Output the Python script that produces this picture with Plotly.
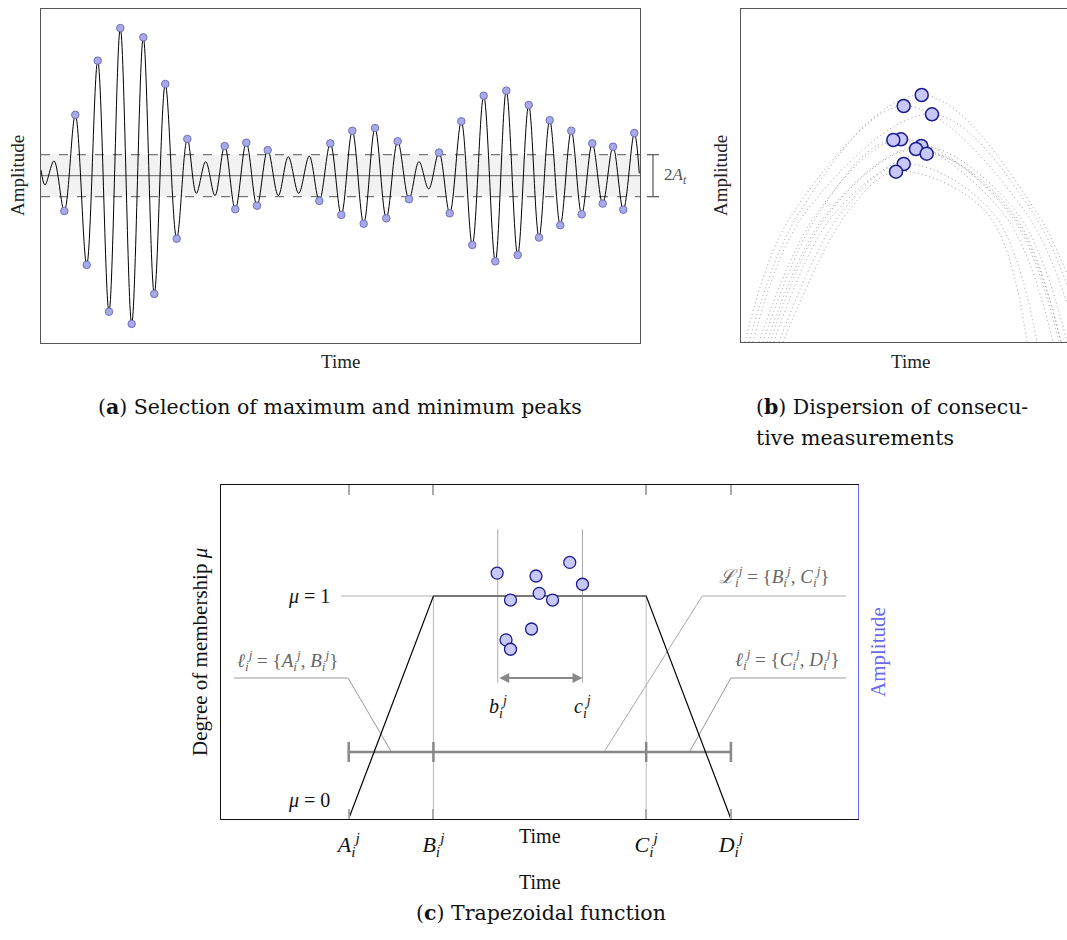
import plotly.graph_objects as go

W, H = 1067, 940
SERIF = "Liberation Serif, Times New Roman, serif"
CAP = "DejaVu Serif, serif"

# ---------------- Panel (a): extrema of the oscillating signal ----------------
sig_t = [0, 4, 13, 23.3, 34.3, 45.7, 56.7, 68, 79.3, 90.7, 102.3, 113.3, 124.3, 135.7, 146.3,
         155.3, 164.7, 174, 183.7, 194.3, 205.3, 216, 226.7, 237.3, 247.3, 257.7, 268.3, 278.3,
         289.3, 300.3, 311.3, 322.7, 334, 345.3, 356.7, 368, 378, 387.7, 398, 408.7, 420.3,
         431.3, 442.7, 454.3, 465.3, 476.7, 487.7, 498, 508.7, 519.3, 530.3, 540.7, 551.3,
         561.7, 572, 582.3, 593.3, 598.3]
sig_a = [0.27, -0.44, 0.70, -1.68, 2.90, -4.25, 5.48, -6.48, 7.03, -7.06, 6.59, -5.63, 4.37,
         -3.0, 1.75, -0.84, 0.67, -0.95, 1.41, -1.6, 1.57, -1.43, 1.22, -0.95, 0.90, -0.84,
         0.93, -1.2, 1.54, -1.87, 2.14, -2.29, 2.27, -2.03, 1.64, -1.12, 0.67, -0.63, 1.10,
         -1.79, 2.59, -3.30, 3.81, -4.08, 4.05, -3.78, 3.37, -2.95, 2.64, -2.36, 2.14, -1.84,
         1.54, -1.33, 1.38, -1.62, 2.03, 0.11]
A_t = 1.0
a_xrange = [0, 599]
a_yrange = [-7.97, 7.94]

# ---------------- Panel (b): consecutive measurements ----------------
b_mx = [180.7, 162.7, 191, 160, 152.3, 180.3, 175, 185.7, 162.7, 155]
b_my = [247, 236, 227.7, 202.7, 202, 196, 193, 188.3, 178, 170.3]
# dotted guide curves: feet at amplitude 0, shoulders at a common amplitude
b_left_foot = [4, 8, 12, 18, 22, 26, 29, 33, 38, 42]
b_left_shoulder = [52, 58, 64, 76, 78, 86, 88, 94, 100, 106]
b_right_shoulder = [296, 285, 292, 268, 262, 276, 270, 272, 252, 246]
b_right_foot = [349, 338, 345, 318, 312, 326, 320, 320, 296, 286]
b_shoulder_amp = 129
b_xrange = [0, 326]
b_yrange = [0, 333]

# ---------------- Panel (c): trapezoidal function ----------------
trap_names = ["A", "B", "C", "D"]
trap_x = [2.0, 3.33, 6.67, 8.0]
trap_mu = [0, 1, 1, 0]
dots_t = [4.33, 4.94, 5.47, 5.67, 4.99, 4.54, 5.20, 4.87, 4.47, 4.54]
dots_amp = [1.103, 1.09, 1.151, 1.053, 1.012, 0.982, 0.982, 0.852, 0.803, 0.761]
b_ij, c_ij = 4.34, 5.67
bc_span = [0.61, 1.30]
arrow_level = 0.632
interval_level = 0.30
mu1_guide_start = 1.88
lead_AB_x = [0.20, 1.99, 2.67]
lead_AB_y = [0.632, 0.632, 0.30]
lead_BC_x = [9.81, 7.55, 6.01]
lead_BC_y = [1.0, 1.0, 0.30]
lead_CD_x = [9.81, 8.0, 7.35]
lead_CD_y = [0.632, 0.632, 0.30]
c_xrange = [0, 10]
c_yrange = [0, 1.5]

fig = go.Figure()

# ---- panel a traces
fig.add_trace(go.Scatter(x=sig_t, y=sig_a, mode="lines", line=dict(color="black", width=1, shape="spline", smoothing=1),
                         xaxis="x", yaxis="y", hoverinfo="skip"))
pk_t = [t for i, (t, a) in enumerate(zip(sig_t, sig_a)) if abs(a) > A_t and 0 < i < len(sig_t) - 1]
pk_a = [a for i, (t, a) in enumerate(zip(sig_t, sig_a)) if abs(a) > A_t and 0 < i < len(sig_t) - 1]
fig.add_trace(go.Scatter(x=pk_t, y=pk_a, mode="markers",
                         marker=dict(size=7.5, color="#a9a9e8", line=dict(color="#6f6fc0", width=1)),
                         xaxis="x", yaxis="y", cliponaxis=False))

# ---- panel b traces
for lf, ls, mx, my, rs, rf in zip(b_left_foot, b_left_shoulder, b_mx, b_my, b_right_shoulder, b_right_foot):
    fig.add_trace(go.Scatter(x=[lf, ls, mx, rs, rf], y=[0, b_shoulder_amp, my, b_shoulder_amp, 0], mode="lines",
                             line=dict(color="#9a9a9a", width=1, dash="1px,3px", shape="spline", smoothing=1),
                             xaxis="x2", yaxis="y2", hoverinfo="skip"))
fig.add_trace(go.Scatter(x=b_mx, y=b_my, mode="markers",
                         marker=dict(size=13, color="#c8c8f8", line=dict(color="#1c1c8c", width=1.5)),
                         xaxis="x2", yaxis="y2"))

# ---- panel c traces
fig.add_trace(go.Scatter(x=[mu1_guide_start, trap_x[1]], y=[1, 1], mode="lines",
                         line=dict(color="#cccccc", width=1.5), xaxis="x3", yaxis="y3"))
for xv in (trap_x[1], trap_x[2]):
    fig.add_trace(go.Scatter(x=[xv, xv], y=[0, 1], mode="lines", line=dict(color="#bbbbbb", width=1),
                             xaxis="x3", yaxis="y3"))
for xv in (b_ij, c_ij):
    fig.add_trace(go.Scatter(x=[xv, xv], y=bc_span, mode="lines", line=dict(color="#aaaaaa", width=1),
                             xaxis="x3", yaxis="y3"))
for lx, ly in ((lead_AB_x, lead_AB_y), (lead_CD_x, lead_CD_y)):
    fig.add_trace(go.Scatter(x=lx, y=ly, mode="lines", line=dict(color="#999999", width=1),
                             xaxis="x3", yaxis="y3"))
fig.add_trace(go.Scatter(x=lead_BC_x, y=lead_BC_y, mode="lines", line=dict(color="#aaaaaa", width=1),
                         xaxis="x3", yaxis="y3"))
fig.add_trace(go.Scatter(x=[trap_x[0], trap_x[-1]], y=[interval_level] * 2, mode="lines",
                         line=dict(color="#888888", width=2.5), xaxis="x3", yaxis="y3"))
tick_h = 0.045
tx, ty = [], []
for xv in trap_x:
    tx += [xv, xv, None]
    ty += [interval_level - tick_h, interval_level + tick_h, None]
fig.add_trace(go.Scatter(x=tx, y=ty, mode="lines", line=dict(color="#888888", width=2.5),
                         xaxis="x3", yaxis="y3"))
fig.add_trace(go.Scatter(x=trap_x, y=trap_mu, mode="lines", line=dict(color="black", width=1.2),
                         xaxis="x3", yaxis="y3"))
fig.add_trace(go.Scatter(x=trap_x[1:3], y=trap_mu[1:3], mode="lines", line=dict(color="#777777", width=2),
                         xaxis="x3", yaxis="y3"))
fig.add_trace(go.Scatter(x=dots_t, y=dots_amp, mode="markers",
                         marker=dict(size=12, color="#c8c8f8", line=dict(color="#1c1c8c", width=1.3)),
                         xaxis="x3", yaxis="y4"))


def dx(px):
    return px / W


def dy(py):
    return 1 - py / H


def note(text, x, y, xref="paper", yref="paper", font=None, xanchor="center", **kw):
    d = dict(text=text, x=x, y=y, xref=xref, yref=yref, showarrow=False, xanchor=xanchor,
             yanchor="middle", font=font)
    d.update(kw)
    return d


ann = []
txt = dict(family=SERIF, size=19, color="#222222")
capf = dict(family=CAP, size=20.5, color="#111111")
# panel a labels
ann.append(note("Time", dx(340), dy(361), font=txt))
ann.append(note("Amplitude", dx(17), dy(176), font=txt, textangle=-90))
ann.append(note("2<i>A<sub>t</sub></i>", 1.037, 0.5, xref="x domain", yref="y domain", xanchor="left",
                font=dict(family=SERIF, size=17, color="#555555")))
ann.append(note("(<b>a</b>) Selection of maximum and minimum peaks", dx(340), dy(407), font=capf))
# panel b labels
ann.append(note("Time", dx(910), dy(361), font=txt))
ann.append(note("Amplitude", dx(720), dy(176), font=txt, textangle=-90))
ann.append(note("(<b>b</b>) Dispersion of consecu-", dx(754), dy(407), xanchor="left", font=capf))
ann.append(note("tive measurements", dx(754), dy(438), xanchor="left", font=capf))
# panel c labels
ctxt = dict(family=SERIF, size=20, color="#111111")
ann.append(note("<i>μ</i> = 1", 1.37, 1.0, xref="x3", yref="y3", font=ctxt))
ann.append(note("<i>μ</i> = 0", 1.37, 0.084, xref="x3", yref="y3", font=ctxt))
gtxt = dict(family=SERIF, size=19, color="#666666")
ann.append(note("<i>ℓ<sub>i</sub><sup>j</sup></i> = {<i>A<sub>i</sub><sup>j</sup></i>, <i>B<sub>i</sub><sup>j</sup></i>}",
                1.04, 0.71, xref="x3", yref="y3", font=gtxt))
ann.append(note("<i>ℒ<sub>i</sub><sup>j</sup></i> = {<i>B<sub>i</sub><sup>j</sup></i>, <i>C<sub>i</sub><sup>j</sup></i>}",
                8.67, 1.087, xref="x3", yref="y3", font=gtxt))
ann.append(note("<i>ℓ<sub>i</sub><sup>j</sup></i> = {<i>C<sub>i</sub><sup>j</sup></i>, <i>D<sub>i</sub><sup>j</sup></i>}",
                8.89, 0.716, xref="x3", yref="y3", font=gtxt))
ann.append(note("<i>b<sub>i</sub><sup>j</sup></i>", b_ij, 0.50, xref="x3", yref="y3", font=ctxt))
ann.append(note("<i>c<sub>i</sub><sup>j</sup></i>", c_ij, 0.50, xref="x3", yref="y3", font=ctxt))
ann.append(dict(text="", x=c_ij, y=arrow_level, ax=b_ij, ay=arrow_level, xref="x3", yref="y3",
                axref="x3", ayref="y3", showarrow=True, arrowhead=2, arrowside="end+start",
                arrowsize=1, arrowwidth=2, arrowcolor="#888888", standoff=0, startstandoff=0))
ann.append(note("Time", dx(540), dy(836), font=ctxt))
ann.append(note("Time", dx(540), dy(882), font=ctxt))
ann.append(note("Degree of membership <i>μ</i>", dx(200), dy(652), textangle=-90,
                font=dict(family=SERIF, size=21, color="#111111")))
ann.append(note("Amplitude", dx(878), dy(652), textangle=-90,
                font=dict(family=SERIF, size=21, color="#6a6af0")))
ann.append(note("(<b>c</b>) Trapezoidal function", dx(541), dy(913), font=capf))

lo = (-A_t - a_yrange[0]) / (a_yrange[1] - a_yrange[0])
hi = (A_t - a_yrange[0]) / (a_yrange[1] - a_yrange[0])
shapes = [
    dict(type="rect", xref="x", yref="y", x0=a_xrange[0], x1=a_xrange[1], y0=-A_t, y1=A_t,
         fillcolor="#f2f2f2", line=dict(width=0), layer="below"),
    dict(type="line", xref="x", yref="y", x0=a_xrange[0], x1=a_xrange[1], y0=A_t, y1=A_t,
         line=dict(color="#777777", width=1.2, dash="dash"), layer="below"),
    dict(type="line", xref="x", yref="y", x0=a_xrange[0], x1=a_xrange[1], y0=-A_t, y1=-A_t,
         line=dict(color="#777777", width=1.2, dash="dash"), layer="below"),
    dict(type="line", xref="x", yref="y", x0=a_xrange[0], x1=a_xrange[1], y0=0, y1=0,
         line=dict(color="#666666", width=1), layer="below"),
    dict(type="line", xref="x domain", yref="y domain", x0=1.0217, x1=1.0217, y0=lo, y1=hi,
         line=dict(color="#555555", width=1.2)),
    dict(type="line", xref="x domain", yref="y domain", x0=1.0117, x1=1.0317, y0=lo, y1=lo,
         line=dict(color="#555555", width=1.2)),
    dict(type="line", xref="x domain", yref="y domain", x0=1.0117, x1=1.0317, y0=hi, y1=hi,
         line=dict(color="#555555", width=1.2)),
]

frame = dict(showline=True, linecolor="#555555", linewidth=1.3, showgrid=False, zeroline=False,
             showticklabels=False, ticks="")

fig.update_layout(
    width=W, height=H, margin=dict(l=0, r=0, t=0, b=0),
    paper_bgcolor="white", plot_bgcolor="white", showlegend=False,
    xaxis=dict(domain=[dx(41), dx(640)], range=a_xrange, mirror=True, anchor="y", **frame),
    yaxis=dict(domain=[dy(343), dy(9)], range=a_yrange, mirror=True, anchor="x", **frame),
    xaxis2=dict(domain=[dx(741), 1.0], range=b_xrange, mirror=True, anchor="y2", **frame),
    yaxis2=dict(domain=[dy(342), dy(9)], range=b_yrange, mirror=False, anchor="x2", **frame),
    xaxis3=dict(domain=[dx(221.3), dx(858.3)], range=c_xrange, anchor="y3", showline=True,
                linecolor="#111111", linewidth=1.3, mirror="ticks", showgrid=False, zeroline=False,
                ticks="inside", ticklen=10, tickwidth=1.5, tickcolor="#aaaaaa",
                tickvals=trap_x, ticklabelstandoff=6,
                ticktext=[f"<i>{n}<sub>i</sub><sup>j</sup></i>" for n in trap_names],
                tickfont=dict(family=SERIF, size=22, color="#111111")),
    yaxis3=dict(domain=[dy(818.7), dy(484.7)], range=c_yrange, anchor="x3", showline=True,
                linecolor="#111111", linewidth=1.3, mirror=False, showgrid=False, zeroline=False,
                showticklabels=False, ticks=""),
    yaxis4=dict(range=c_yrange, overlaying="y3", side="right", anchor="x3", showline=True,
                linecolor="#7070ff", linewidth=1.3, showgrid=False, zeroline=False,
                showticklabels=False, ticks=""),
    annotations=ann, shapes=shapes,
)

fig.write_html("out.html", config={"displayModeBar": False},
               post_script="document.body.style.margin='0';")
